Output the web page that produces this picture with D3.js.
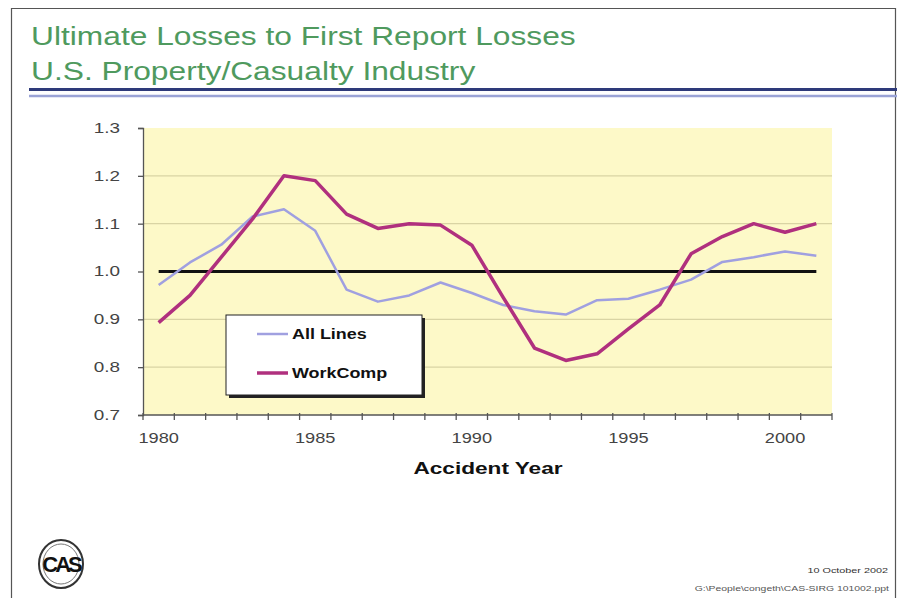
<!DOCTYPE html>
<html><head><meta charset="utf-8">
<script src="https://cdn.jsdelivr.net/npm/d3@7"></script>
<style>body{margin:0;background:#fff}svg{display:block}text{font-family:"Liberation Sans",Arial,sans-serif}</style>
</head><body><svg id="c" width="897" height="598"></svg>
<script>
const years = [1980,1981,1982,1983,1984,1985,1986,1987,1988,1989,1990,1991,1992,1993,1994,1995,1996,1997,1998,1999,2000,2001];
const allLines = [0.972,1.019,1.056,1.115,1.13,1.085,0.962,0.937,0.95,0.977,0.955,0.93,0.917,0.91,0.94,0.943,0.962,0.983,1.02,1.03,1.042,1.033];
const workComp = [0.893,0.95,1.03,1.11,1.20,1.19,1.12,1.09,1.10,1.097,1.055,0.946,0.84,0.814,0.828,0.88,0.93,1.037,1.073,1.10,1.082,1.10];
const baseline = [1,1,1,1,1,1,1,1,1,1,1,1,1,1,1,1,1,1,1,1,1,1];
const yTicks = [0.7,0.8,0.9,1.0,1.1,1.2,1.3];
const xLabels = [1980,1985,1990,1995,2000];
const gridVals = [0.8,0.9,1.1,1.2];
const titleLines = ["Ultimate Losses to First Report Losses","U.S. Property/Casualty Industry"];
const legendNames = ["All Lines","WorkComp"];

const svg = d3.select("#c");
function stretch(sel, f){
  sel.each(function(){
    const L = this.getComputedTextLength();
    d3.select(this).attr("textLength", L*f).attr("lengthAdjust","spacingAndGlyphs");
  });
}
// slide frame
svg.append("path").attr("d","M11.5,598 V8.5 H895.5 V598").attr("fill","none").attr("stroke","#555").attr("stroke-width",1.2);
// title
const tt = svg.selectAll("text.title").data(titleLines).enter().append("text")
  .attr("x",31).attr("y",(d,i)=>45+i*35).attr("font-size",26).attr("fill","#4f9a5e").text(d=>d);
stretch(tt,1.22);
svg.append("line").attr("x1",29).attr("x2",897).attr("y1",89.5).attr("y2",89.5).attr("stroke","#2e3a7a").attr("stroke-width",3);
svg.append("line").attr("x1",29).attr("x2",897).attr("y1",96).attr("y2",96).attr("stroke","#9aa3d6").attr("stroke-width",2.5);

const x = d3.scaleBand().domain(years).range([143,832]).padding(0);
const y = d3.scaleLinear().domain([0.7,1.3]).range([415,128]);
const cx = d => x(d)+x.bandwidth()/2;

svg.append("rect").attr("x",143).attr("y",y(1.3)).attr("width",832-143).attr("height",y(0.7)-y(1.3)).attr("fill","#fdf9c8");
svg.selectAll("line.grid").data(gridVals).enter().append("line")
  .attr("x1",143).attr("x2",832).attr("y1",d=>y(d)).attr("y2",d=>y(d)).attr("stroke","#d9d4a4").attr("stroke-width",1.3);

// y axis
const ya = svg.append("g").attr("transform","translate(143,0)")
  .call(d3.axisLeft(y).tickValues(yTicks).tickFormat(d3.format(".1f")).tickSize(5).tickPadding(18));
ya.select(".domain").attr("stroke","#555").attr("stroke-width",1.3);
ya.selectAll(".tick line").attr("stroke","#555").attr("stroke-width",1.3);
ya.selectAll("text").attr("font-size",14).attr("fill","#444").attr("font-family","Liberation Sans, Arial, sans-serif");
stretch(ya.selectAll("text"),1.35);

// x axis
const xa = svg.append("g").attr("transform","translate(0,415)");
xa.append("line").attr("x1",143).attr("x2",832).attr("stroke","#555").attr("stroke-width",1.3);
const bounds = years.map(d=>x(d)).concat([x(years[years.length-1])+x.bandwidth()]);
xa.selectAll("line.t").data(bounds).enter().append("line").attr("x1",d=>d).attr("x2",d=>d).attr("y1",-2).attr("y2",5).attr("stroke","#555").attr("stroke-width",1.3);
const xl = xa.selectAll("text").data(xLabels).enter().append("text").attr("x",d=>cx(d)).attr("y",28).attr("text-anchor","middle").attr("font-size",14).attr("fill","#444").text(d=>d);
stretch(xl,1.3);
const at = svg.append("text").attr("x",488).attr("y",474).attr("text-anchor","middle").attr("font-size",17).attr("font-weight","bold").attr("fill","#111").text("Accident Year");
stretch(at,1.33);

const line = d3.line().x((d,i)=>cx(years[i])).y(d=>y(d));
svg.append("path").datum(baseline).attr("d",line).attr("fill","none").attr("stroke","#111").attr("stroke-width",3);
svg.append("path").datum(allLines).attr("d",line).attr("fill","none").attr("stroke","#a0a0e0").attr("stroke-width",2.5).attr("stroke-linejoin","round");
svg.append("path").datum(workComp).attr("d",line).attr("fill","none").attr("stroke","#b0307e").attr("stroke-width",3.5).attr("stroke-linejoin","round");

// legend
const lg = svg.append("g");
lg.append("rect").attr("x",229).attr("y",318).attr("width",196).attr("height",80).attr("fill","#222");
lg.append("rect").attr("x",226).attr("y",315).attr("width",196).attr("height",80).attr("fill","#fff").attr("stroke","#222").attr("stroke-width",1);
const lcol = ["#a0a0e0","#b0307e"], lw=[2.5,3.5];
legendNames.forEach((n,i)=>{
  const yy = 334+i*39;
  lg.append("line").attr("x1",257).attr("x2",288).attr("y1",yy).attr("y2",yy).attr("stroke",lcol[i]).attr("stroke-width",lw[i]);
  const t = lg.append("text").attr("x",292).attr("y",yy+5).attr("font-size",14).attr("font-weight","bold").attr("fill","#111").text(n);
  stretch(t,1.28);
});

// logo
const logo = svg.append("g").attr("transform","translate(61,564)");
logo.append("ellipse").attr("rx",22).attr("ry",24).attr("fill","none").attr("stroke","#333").attr("stroke-width",2);
logo.append("ellipse").attr("rx",18).attr("ry",20).attr("fill","none").attr("stroke","#777").attr("stroke-width",1);
const lt = logo.append("text").attr("y",8).attr("text-anchor","middle").attr("font-size",22).attr("font-weight","bold").attr("fill","#111").attr("letter-spacing",-3).text("CAS");

// footer
const f1 = svg.append("text").attr("x",888).attr("y",573).attr("text-anchor","end").attr("font-size",8).attr("fill","#333").text("10 October  2002");
stretch(f1,1.35);
const f2 = svg.append("text").attr("x",889).attr("y",591).attr("text-anchor","end").attr("font-size",6.5).attr("fill","#555").text("G:\\People\\congeth\\CAS-SIRG 101002.ppt");
stretch(f2,1.6);
</script></body></html>
